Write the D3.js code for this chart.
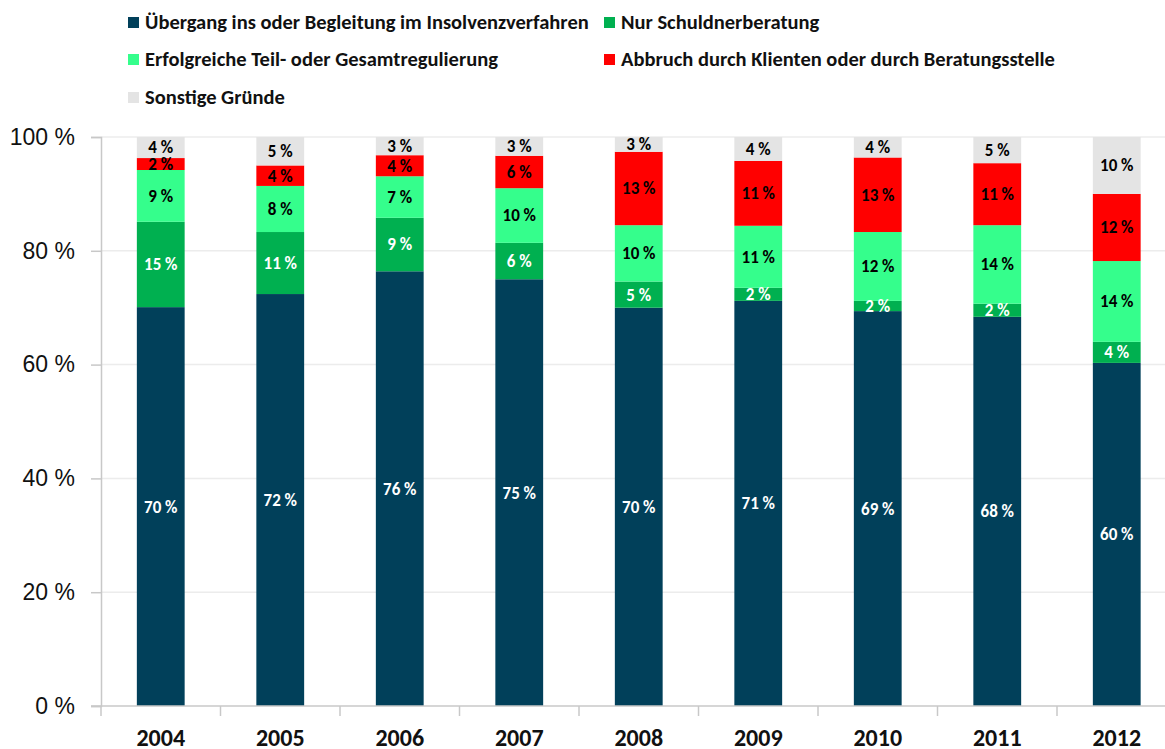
<!DOCTYPE html>
<html>
<head>
<meta charset="utf-8">
<script src="https://cdn.jsdelivr.net/npm/d3@7"></script>
<style>
  body { margin: 0; background: #fff; overflow: hidden; }
  svg { font-family: Carlito, Lato, "Open Sans", sans-serif; display: block; }
</style>
</head>
<body>
<script>
// data (percent)
var years = ["2004", "2005", "2006", "2007", "2008", "2009", "2010", "2011", "2012"]
var seriesNames = ["Übergang ins oder Begleitung im Insolvenzverfahren", "Nur Schuldnerberatung",
    "Erfolgreiche Teil- oder Gesamtregulierung", "Abbruch durch Klienten oder durch Beratungsstelle", "Sonstige Gründe"]
var insolvenz  = [70.1, 72.4, 76.4, 75.0, 70.0, 71.2, 69.4, 68.4, 60.3]
var beratung   = [15.0, 10.9,  9.4,  6.4,  4.6,  2.3,  1.8,  2.3,  3.7]
var regulierung= [ 9.1,  8.1,  7.3,  9.6,  9.9, 10.9, 12.1, 13.8, 14.2]
var abbruch    = [ 2.1,  3.6,  3.7,  5.7, 12.9, 11.4, 13.1, 10.9, 11.8]
var sonstige   = [ 3.7,  5.0,  3.2,  3.3,  2.6,  4.2,  3.6,  4.6, 10.0]
var yTicks = [0, 20, 40, 60, 80, 100]

var colors = ["#01405a", "#00b050", "#35fe8c", "#ff0000", "#e4e4e4"]
var labelColors = ["#fff", "#fff", "#000", "#000", "#000"]

var W = 1165, H = 749
var svg = d3.select("body").append("svg").attr("width", W).attr("height", H)

var rows = years.map(function(y, i) {
    return {year: y, s0: insolvenz[i], s1: beratung[i], s2: regulierung[i], s3: abbruch[i], s4: sonstige[i]}
})
var stack = d3.stack().keys(["s0", "s1", "s2", "s3", "s4"])(rows)

var x = d3.scaleBand().domain(years).range([101, 1176.5]).paddingInner(0.6).paddingOuter(0.3)
var y = d3.scaleLinear().domain([0, 100]).range([706, 137])

// gridlines
svg.append("g").selectAll("line").data(yTicks.slice(1)).enter().append("line")
    .attr("x1", 101).attr("x2", W)
    .attr("y1", function(d) { return y(d) }).attr("y2", function(d) { return y(d) })
    .attr("stroke", "#ececec").attr("stroke-width", 1.5)

// bars
var layers = svg.append("g").selectAll("g").data(stack).enter().append("g")
    .attr("fill", function(d, i) { return colors[i] })
layers.selectAll("rect").data(function(d) { return d }).enter().append("rect")
    .attr("x", function(d) { return x(d.data.year) })
    .attr("width", x.bandwidth())
    .attr("y", function(d) { return y(d[1]) })
    .attr("height", function(d) { return y(d[0]) - y(d[1]) })

// bar labels
var lab = svg.append("g").selectAll("g").data(stack).enter().append("g")
    .attr("fill", function(d, i) { return labelColors[i] })
lab.selectAll("text").data(function(d) { return d }).enter().append("text")
    .attr("x", function(d) { return x(d.data.year) + x.bandwidth() / 2 })
    .attr("y", function(d) { return (y(d[0]) + y(d[1])) / 2 })
    .attr("dy", "0.35em")
    .attr("text-anchor", "middle")
    .style("font-size", "17px").style("font-weight", "bold")
    .text(function(d) { return Math.round(d[1] - d[0]) + " %" })

// y axis
var yAxis = d3.axisLeft(y).tickValues(yTicks).tickSize(10).tickPadding(16)
    .tickFormat(function(d) { return d + " %" })
var ya = svg.append("g").attr("transform", "translate(101,0)").call(yAxis)
ya.select(".domain").attr("stroke", "#c8c8c8").attr("stroke-width", 1.5)
ya.selectAll(".tick line").attr("stroke", "#c8c8c8").attr("stroke-width", 1.5)
ya.selectAll("text").style("font-size", "23px").attr("fill", "#111").attr("font-family", "inherit")

// x axis
var xa = svg.append("g").attr("transform", "translate(0,706)")
xa.append("line").attr("x1", 91).attr("x2", W).attr("stroke", "#c8c8c8").attr("stroke-width", 1.5)
xa.selectAll("line.t").data(years).enter().append("line").attr("class", "t")
    .attr("x1", function(d) { return x(d) - x.step() * x.paddingInner() / 2 })
    .attr("x2", function(d) { return x(d) - x.step() * x.paddingInner() / 2 })
    .attr("y1", 0).attr("y2", 10).attr("stroke", "#c8c8c8").attr("stroke-width", 1.5)
xa.selectAll("text").data(years).enter().append("text")
    .attr("x", function(d) { return x(d) + x.bandwidth() / 2 })
    .attr("y", 40)
    .attr("text-anchor", "middle")
    .style("font-size", "24px").style("font-weight", "bold").attr("fill", "#111")
    .text(function(d) { return d })

// legend
var legPos = [[128, 22], [604, 22], [128, 59], [604, 59], [128, 97]]
var leg = svg.append("g").selectAll("g").data(seriesNames).enter().append("g")
    .attr("transform", function(d, i) { return "translate(" + legPos[i][0] + "," + legPos[i][1] + ")" })
leg.append("rect").attr("x", 0).attr("y", -5).attr("width", 11).attr("height", 11)
    .attr("fill", function(d, i) { return colors[i] })
leg.append("text").attr("x", 17).attr("dy", "0.35em")
    .style("font-size", "20.5px").style("font-weight", "bold").attr("fill", "#111")
    .text(function(d) { return d })
</script>
</body>
</html>
